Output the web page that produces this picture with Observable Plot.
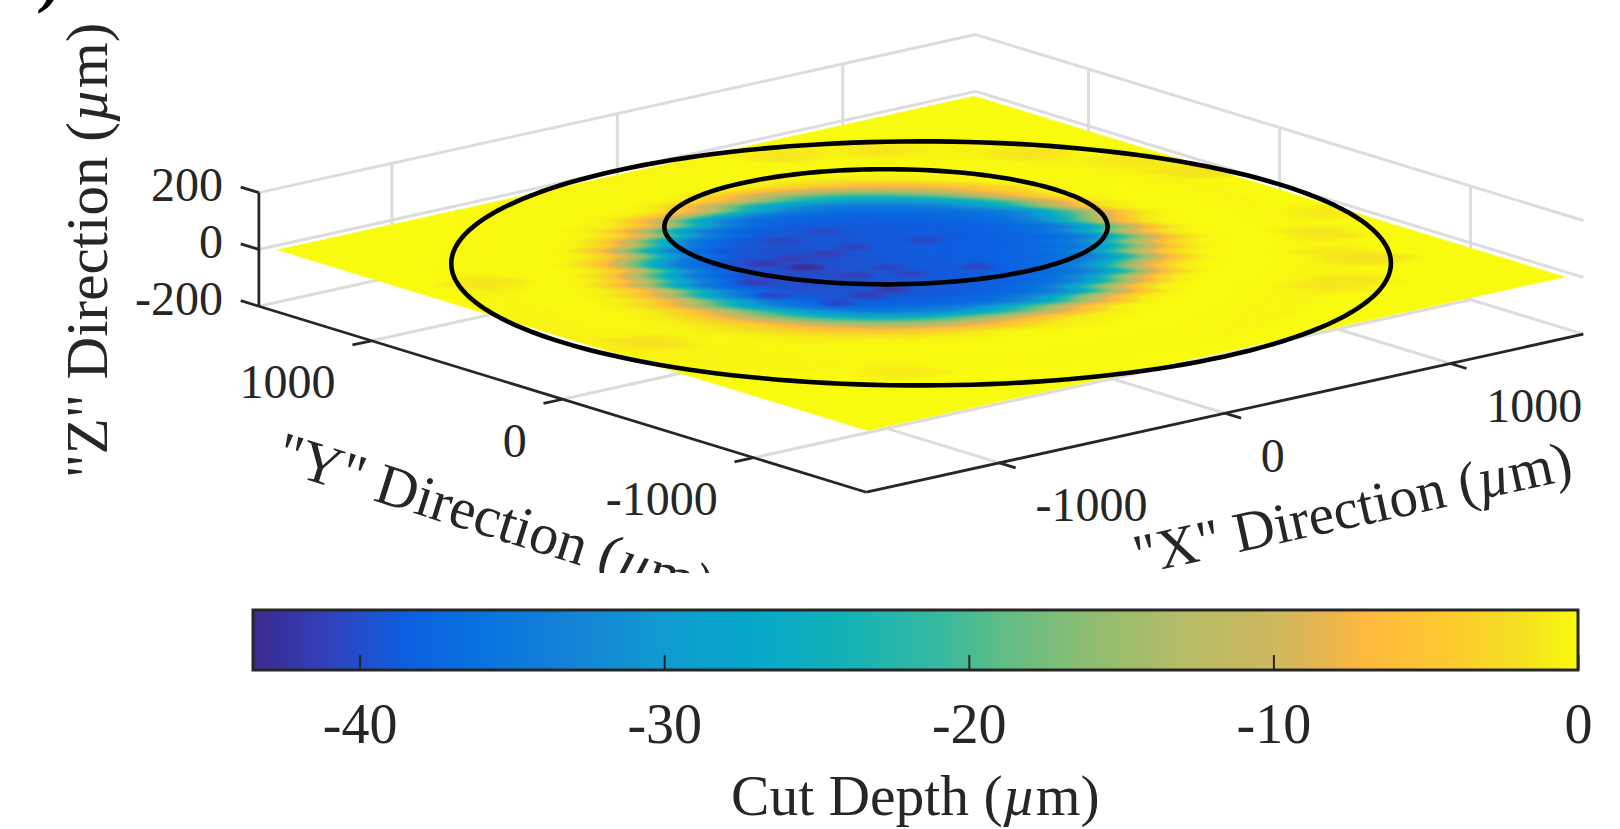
<!DOCTYPE html>
<html>
<head>
<meta charset="utf-8">
<script src="https://cdn.jsdelivr.net/npm/d3@7"></script>
<script src="https://cdn.jsdelivr.net/npm/@observablehq/plot@0.6"></script>
<style>
html,body{margin:0;padding:0;background:#fff;overflow:hidden}
svg{display:block}
</style>
</head>
<body>
<div id="chart"></div>
<script>
// ---- axis limits and ticks (micrometres) ----
const axisLimit = 1590;
const zLimits = [-200, 0, 200];
const xyTicks = [-1000, 0, 1000];
const surfaceHalf = 1548;
const cbarTicks = [-40, -30, -20, -10, 0];
const cbarDomain = [-43.5, 0];

// ---- overlaid rings [centreX, centreY, radius] ----
const outerRing = [0, 0, 1590];
const innerRing = [218, 441, 750];

// ---- colour map ----
const colorStops = [-43.5,-41,-38.5,-36,-33,-30,-27,-24,-21,-19,-16,-13,-10,-8.5,-7,-4.5,-2,0];
const colorValues = ["#3a2a8e","#3242bd","#0d5fe0","#0873df","#1483d6","#0f9bd0","#05a8c9","#14b2b5","#36b9a0","#5fbd87","#8fbd70","#b5bc67","#cdb85e","#e5b552","#fdb93e","#fdc92f","#f5de22","#f9fb0e"];

// ---- measured cut depth: crater centre, sample radii, sample angles, depth by angle ----
const craterCentre = [-25, 127];
const craterFloor = -39;
const radii = [120,280,420,540,640,710,770,830,890,950,1010,1080,1180,1300,1420,1520];
const angles = [0,15,30,45,60,75,90,105,120,135,150,165,180,195,210,225,240,255,270,285,300,315,330,345];
const depths = [
[-38.8,-38.6,-38.4,-37.6,-36.0,-33.2,-27.5,-20.0,-12.5,-6.0,-1.5,-0.3,0,-0.2,-0.4,0],
[-38.9,-38.8,-38.6,-38.0,-36.4,-33.0,-28.0,-19.0,-11.5,-5.0,-1.0,-0.2,-0.1,-0.3,-0.6,-0.1],
[-38.8,-38.7,-38.7,-37.8,-36.0,-32.2,-26.0,-18.0,-10.0,-4.5,-1.2,0,-0.1,-0.2,-0.7,-0.2],
[-38.9,-38.9,-38.8,-38.0,-35.8,-31.8,-25.0,-17.0,-9.5,-4.8,-1.0,-0.3,0,-0.3,-0.6,-0.2],
[-38.9,-39.0,-38.9,-38.2,-36.2,-32.5,-26.0,-18.5,-10.5,-5.5,-1.4,-0.2,-0.1,-0.2,-0.5,-0.3],
[-39,-39.2,-39,-38.4,-36.4,-33,-27,-19.5,-12,-6,-1.8,-0.4,-0.1,-0.1,-0.4,-0.1],
[-39.1,-39.3,-39.2,-38.6,-36.8,-33.5,-27.5,-19,-11,-5.5,-1.5,-0.2,-0.1,-0.3,-0.4,-0.1],
[-39.2,-39.4,-39.4,-38.8,-36.6,-33,-27,-18,-10,-5,-1.2,-0.3,-0.1,-0.2,-0.3,-0.1],
[-39.3,-39.6,-39.6,-39,-36.8,-33.4,-28,-20,-12,-6.5,-2,-0.6,-0.1,-0.1,-0.2,-0.1],
[-39.4,-39.8,-39.8,-39.2,-37,-34,-28.5,-20.5,-13,-7,-2.5,-0.5,-0.1,-0.2,-0.3,0],
[-39.5,-40,-40,-39.4,-36.8,-33.6,-27.5,-19.5,-12,-6,-2,-0.4,-0.1,-0.1,-0.3,-0.2],
[-39.5,-40,-40,-39.6,-37,-33.8,-28,-20,-12.5,-7,-2.8,-0.8,-0.2,-0.2,-0.4,-0.3],
[-39.4,-39.9,-40,-39.8,-37.6,-34.6,-29,-21,-13,-7.5,-3,-1,-0.3,-0.2,-0.5,-0.6],
[-39.3,-39.8,-39.9,-39.8,-37.8,-35,-29,-21,-14,-8,-3.5,-1.5,-0.4,-0.4,-0.5,-0.7],
[-39.2,-39.6,-39.7,-39.5,-37.6,-34.6,-28,-20,-13,-7,-3,-1,-0.3,-0.4,-0.5,-0.4],
[-39.1,-39.4,-39.5,-39.2,-37.4,-34,-27.5,-19,-12,-6,-2,-0.6,-0.1,-0.2,-0.3,-0.2],
[-39,-39.2,-39.2,-38.9,-37,-33.4,-27,-18.5,-11,-5.5,-1.6,-0.4,0,-0.1,-0.3,-0.1],
[-39,-39,-39,-38.6,-36.8,-33,-26,-18,-10.5,-5,-1.4,-0.2,0,-0.1,-0.2,-0.1],
[-38.9,-38.9,-38.8,-38.2,-36.4,-32.6,-26,-18,-10.5,-5,-1.2,-0.5,0,-0.1,-0.2,-0.2],
[-38.8,-38.8,-38.6,-37.8,-36,-32,-25,-17,-10,-4.5,-1,-0.2,0,-0.1,-0.3,-0.4],
[-38.8,-38.6,-38.2,-37.2,-35,-31,-24,-16.5,-9.5,-4,-0.8,-0.1,0,-0.2,-0.4,-0.4],
[-38.7,-38.5,-38,-36.6,-34.4,-30,-23.5,-16,-9.5,-4.5,-1.2,-0.2,0,-0.1,-0.4,-0.5],
[-38.7,-38.5,-38,-36.8,-35,-31,-24,-17,-11,-5.5,-1.8,-0.4,-0.1,-0.1,-0.3,-0.3],
[-38.8,-38.6,-38.2,-37.2,-35.4,-32,-26,-18.5,-11.5,-6,-1.6,-0.3,0,-0.1,-0.3,-0.1]
];
// dark streaks on the crater floor: [X, Y, depth]
const darkStreaks = [
[-330,215,-43.2],[-409,341,-41.8],[-290,325,-41.4],[-161,301,-41.4],[-170,536,-40.8],[-37,308,-40.8],
[-275,27,-41.4],[-119,36,-40.8],[-115,-80,-40.8],[210,225,-40.8],[119,-154,-40.8],[18,530,-40.4],
[-590,180,-41.4],[-409,-201,-41.4],[-301,-195,-41.8],[-650,4,-40.8],[-551,-212,-40.8]
];
// pale patches on the flat just inside the outer ring: [X, Y, depth]
const palePatches = [
[560,1369,-1.5],[844,1217,-1.4],[1217,847,-1.6],[1423,549,-1.5],[1521,287,-1.4],[1477,333,-1.6],
[1479,-385,-1.3],[1284,-580,-1.6],[1172,-829,-1.4],[1200,-936,-1.8],[884,-1114,-1.5],[979,-1124,-1.4],
[-1367,-191,-1.8],[-1282,746,-1.6],[-974,-1036,-1.1]
];
// sideways shift (px) of each 5-px scan row, estimated from the streaky crater rim
const rowShift = [4,-6,9,-3,7,-10,6,12,-4,9,-9,3,13,-8,10,-12,6,-4,12,-9,4,10,-10,7,-3,12,-9,6,-6,10,-4,7];

// ---- orthographic view: screen vector of one micrometre on each axis ----
const origin = [920.6, 262.9];
const ux = [0.22545, -0.0497], uy = [-0.19104, -0.05848], uz = [0, -0.2841];
const px = ([X, Y, Z]) => origin[0] + ux[0]*X + uy[0]*Y + uz[0]*Z;
const py = ([X, Y, Z]) => origin[1] + ux[1]*X + uy[1]*Y + uz[1]*Z;
const det = ux[0]*uy[1] - uy[0]*ux[1];

const L = axisLimit, zMin = zLimits[0], zMax = zLimits[2];
const seg = (a, b) => ({a, b});

const grid = [
  ...zLimits.map(z => seg([-L, L, z], [L, L, z])),
  ...zLimits.map(z => seg([L, L, z], [L, -L, z])),
  ...xyTicks.map(t => seg([t, L, zMin], [t, L, zMax])),
  ...xyTicks.map(t => seg([L, t, zMin], [L, t, zMax])),
  ...xyTicks.map(t => seg([t, -L, zMin], [t, L, zMin])),
  ...xyTicks.map(t => seg([-L, t, zMin], [L, t, zMin]))
];
const axes = [
  seg([-L, L, zMin], [-L, L, zMax]),
  seg([-L, L, zMin], [-L, -L, zMin]),
  seg([-L, -L, zMin], [L, -L, zMin]),
  ...zLimits.map(z => seg([-L, L, z], [-L, L + 95, z])),
  ...xyTicks.map(t => seg([-L, t, zMin], [-L - 85, t, zMin])),
  ...xyTicks.map(t => seg([t, -L, zMin], [t, -L - 85, zMin]))
];

// surface nodes: centre, then the polar samples in table order
const nodes = [{p: [craterCentre[0], craterCentre[1], 0], v: craterFloor}];
angles.forEach((deg, i) => radii.forEach((r, j) => {
  const t = deg * Math.PI / 180;
  nodes.push({p: [craterCentre[0] + r*Math.cos(t), craterCentre[1] + r*Math.sin(t), 0], v: depths[i][j]});
}));

// interpolation over the polar sample lattice, inside the square sampled outline
function surfaceInterpolate(index, w, h, X, Y, V) {
  const out = new Float64Array(w * h).fill(NaN);
  const nA = angles.length, nR = radii.length, step = 360 / nA;
  const at = (a, r) => V[1 + ((a + nA) % nA) * nR + r];
  const toXY = (sx, sy) => [(sx*uy[1] - sy*uy[0]) / det, (ux[0]*sy - ux[1]*sx) / det];
  const stamp = (list, hl, hh) => list.map(([A, B, d]) => ({x: px([A, B, 0]), y: py([A, B, 0]), d, hl, hh}));
  const floorMarks = stamp(darkStreaks, 24, 4.5);
  const flatMarks = stamp(palePatches, 52, 9);
  const apply = (marks, x, y, val) => {
    for (const m of marks) {
      const dx = (x - m.x) / m.hl, dy = (y - m.y) / m.hh, q = dx*dx + dy*dy;
      if (q < 1) val = Math.min(val, val + (m.d - val) * (1 - q));
    }
    return val;
  };
  for (let j = 0, k = 0; j < h; ++j) {
    const rf = j / 5, r0i = Math.floor(rf), rt = rf - r0i;
    const shift = rowShift[r0i % rowShift.length]*(1 - rt) + rowShift[(r0i + 1) % rowShift.length]*rt;
    for (let i = 0; i < w; ++i, ++k) {
      const sx = i + 0.5 - origin[0], sy = j + 0.5 - origin[1];
      const [eX, eY] = toXY(sx, sy);
      if (Math.abs(eX) > surfaceHalf || Math.abs(eY) > surfaceHalf) continue;
      const [dX, dY] = toXY(sx + shift, sy);
      const cx = dX - craterCentre[0], cy = dY - craterCentre[1];
      let deg = Math.atan2(cy, cx) * 180 / Math.PI; if (deg < 0) deg += 360;
      const r = Math.hypot(cx, cy);
      const af = deg / step, a0 = Math.floor(af), t = af - a0;
      let val;
      if (r >= radii[nR - 1] + 80) val = 0;
      else if (r >= radii[nR - 1]) {
        val = (at(a0, nR - 1)*(1 - t) + at(a0 + 1, nR - 1)*t) * (1 - (r - radii[nR - 1]) / 80);
      } else if (r <= radii[0]) {
        const q = r / radii[0];
        val = V[0]*(1 - q) + (at(a0, 0)*(1 - t) + at(a0 + 1, 0)*t) * q;
      } else {
        const r0 = d3.bisectRight(radii, r) - 1, q = (r - radii[r0]) / (radii[r0 + 1] - radii[r0]);
        const v0 = at(a0, r0)*(1 - q) + at(a0, r0 + 1)*q;
        const v1 = at(a0 + 1, r0)*(1 - q) + at(a0 + 1, r0 + 1)*q;
        val = v0*(1 - t) + v1*t;
      }
      if (r < 760) val = apply(floorMarks, i + 0.5, j + 0.5, val);
      else if (r > 1050) val = apply(flatMarks, i + 0.5 + shift, j + 0.5, val);
      out[k] = val;
    }
  }
  return out;
}

const ringPoints = ([cx, cy, R]) => d3.range(0, 361, 2).map(a => [cx + R*Math.cos(a*Math.PI/180), cy + R*Math.sin(a*Math.PI/180), 0]);

const ink = "#262626";
const serif = "Liberation Serif";
const colorScale = {type: "linear", domain: colorStops, range: colorValues, clamp: true};
const lineAt = (key, fn) => d => fn(d[key]);

const topPlot = Plot.plot({
  width: 1620, height: 573,
  margin: 0,
  x: {domain: [0, 1620], range: [0, 1620], axis: null},
  y: {domain: [0, 573], range: [0, 573], axis: null},
  color: colorScale,
  style: {fontFamily: serif, background: "#fff", overflow: "hidden"},
  marks: [
    Plot.link(grid, {x1: lineAt("a", px), y1: lineAt("a", py), x2: lineAt("b", px), y2: lineAt("b", py), stroke: "#dcdcdc", strokeWidth: 3}),
    Plot.raster(nodes, {x: d => px(d.p), y: d => py(d.p), fill: "v", interpolate: surfaceInterpolate, pixelSize: 1}),
    Plot.line(ringPoints(outerRing), {x: px, y: py, stroke: "#000", strokeWidth: 4.6}),
    Plot.line(ringPoints(innerRing), {x: px, y: py, stroke: "#000", strokeWidth: 4.6}),
    Plot.link(axes, {x1: lineAt("a", px), y1: lineAt("a", py), x2: lineAt("b", px), y2: lineAt("b", py), stroke: ink, strokeWidth: 2.8}),
    Plot.text(zLimits, {x: z => px([-L, L, z]), y: z => py([-L, L, z]), text: String, textAnchor: "end", dx: -36, dy: -7, fontSize: 48, fill: ink}),
    Plot.text(xyTicks, {x: t => px([-L, t, zMin]), y: t => py([-L, t, zMin]), text: String, textAnchor: "end", dx: -36, dy: 42, fontSize: 48, fill: ink}),
    Plot.text(xyTicks, {x: t => px([t, -L, zMin]), y: t => py([t, -L, zMin]), text: String, textAnchor: "start", dx: 36, dy: 43, fontSize: 48, fill: ink}),
    Plot.text(['"Z" Direction (µm)'], {frameAnchor: "top-left", dx: 88, dy: 250, rotate: -90, textAnchor: "middle", lineAnchor: "middle", fontSize: 59, fill: ink}),
    Plot.text(['"Y" Direction (µm)'], {frameAnchor: "top-left", dx: 285, dy: 429, rotate: 17.5, textAnchor: "start", lineAnchor: "top", fontSize: 58, fill: ink}),
    Plot.text(['"X" Direction (µm)'], {frameAnchor: "top-left", dx: 1138, dy: 574, rotate: -12.4, textAnchor: "start", lineAnchor: "bottom", fontSize: 57, fill: ink}),
    Plot.text([")"], {frameAnchor: "top-left", dx: 42, dy: -42, textAnchor: "start", lineAnchor: "top", fontSize: 60, fontWeight: "bold", fontStyle: "italic", fill: "#000"})
  ]
});

const barPlot = Plot.plot({
  width: 1620, height: 256,
  margin: 0,
  x: {domain: cbarDomain, range: [253, 1578], axis: null},
  y: {domain: [0, 1], range: [97, 37], axis: null},
  color: colorScale,
  style: {fontFamily: serif, background: "#fff", overflow: "hidden"},
  marks: [
    Plot.raster({fill: (x) => x, x1: cbarDomain[0], x2: cbarDomain[1], y1: 0, y2: 1, width: 1325, height: 2, imageRendering: "auto"}),
    Plot.ruleX(cbarTicks, {y1: 0, y2: 0.25, stroke: ink, strokeWidth: 2}),
    Plot.rect([0], {x1: cbarDomain[0], x2: cbarDomain[1], y1: 0, y2: 1, fill: "none", stroke: ink, strokeWidth: 3}),
    Plot.text(cbarTicks, {x: d => d, y: 0, text: String, dy: 55, fontSize: 56, fill: ink}),
    Plot.text(["Cut Depth (µm)"], {x: -20, y: 0, dy: 126, dx: -54, fontSize: 57.5, fill: ink})
  ]
});

// italic µ as in the original's TeX labels
for (const svg of [topPlot, barPlot]) {
  d3.select(svg).selectAll("text").each(function () {
    const holder = this.querySelector("tspan") || this;
    const s = holder.textContent;
    if (!s.includes("µ")) return;
    const [pre, post] = s.split("µ");
    holder.textContent = "";
    const sel = d3.select(holder);
    sel.append("tspan").text(pre);
    sel.append("tspan").attr("font-style", "italic").text("µ");
    sel.append("tspan").text(post);
  });
}

document.getElementById("chart").append(topPlot, barPlot);
</script>
</body>
</html>
